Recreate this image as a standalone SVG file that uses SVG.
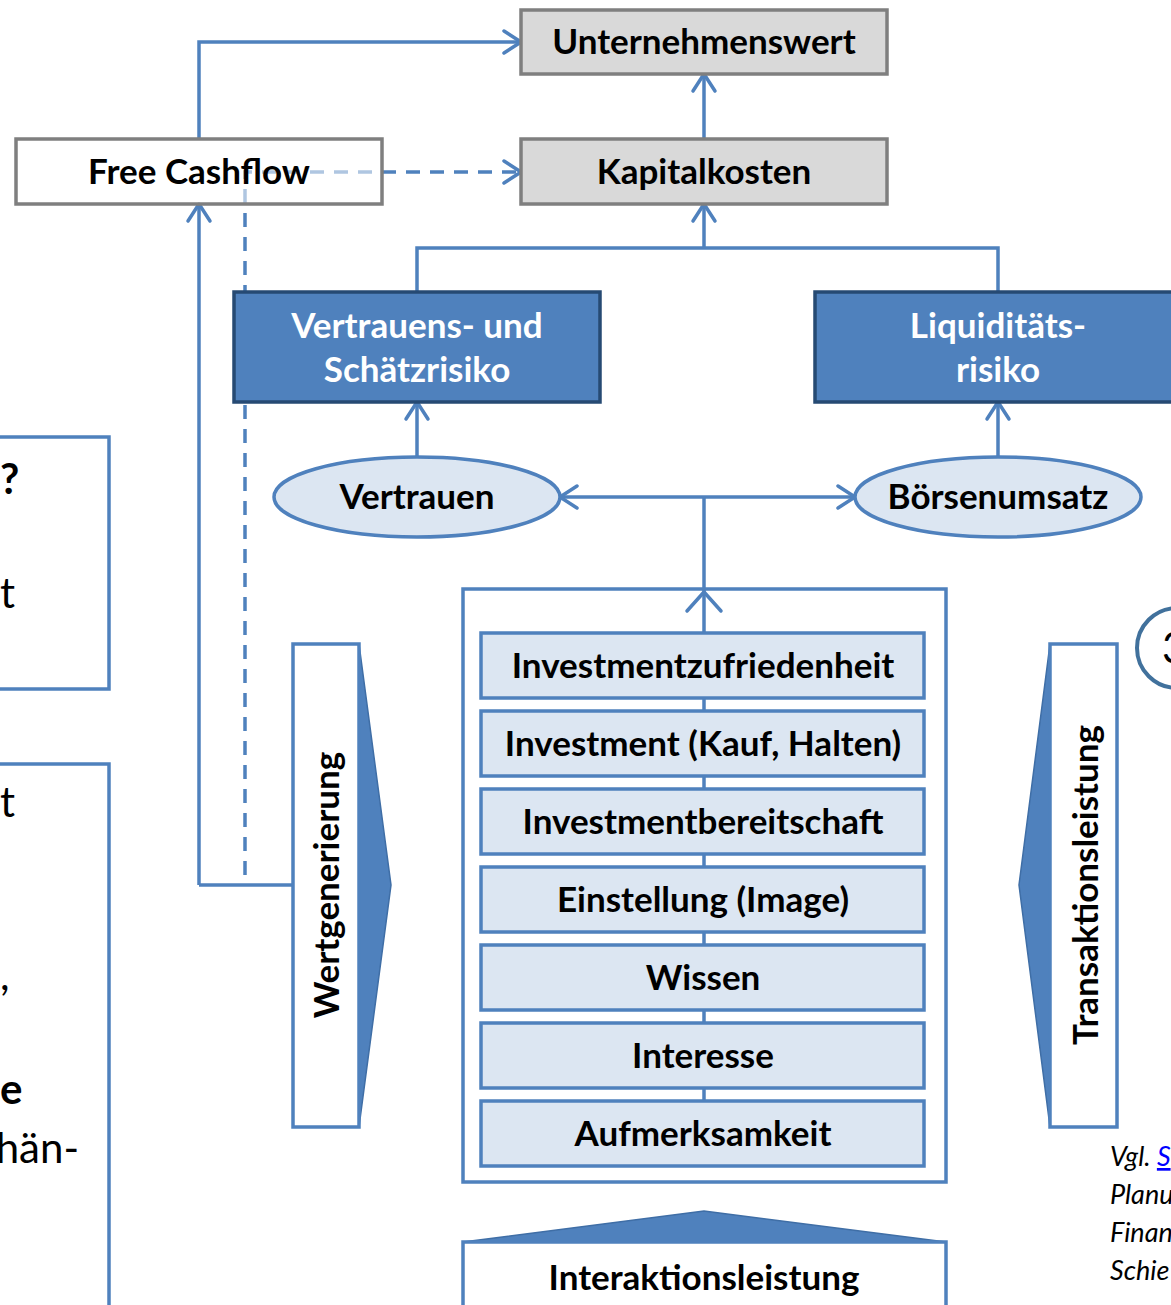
<svg xmlns="http://www.w3.org/2000/svg" width="1171" height="1305" viewBox="0 0 1171 1305">
<defs>
<style>
.t{font-family:Lato,"Liberation Sans",sans-serif;font-weight:bold;font-size:35px;fill:#000;text-anchor:middle}
.w{fill:#fff}
.gray{fill:#d9d9d9;stroke:#7f7f7f;stroke-width:3.5}
.dark{fill:#4f81bd;stroke:#264a73;stroke-width:3.5}
.light{fill:#dce6f2;stroke:#4f81bd;stroke-width:3.5}
.frame{fill:#fff;stroke:#4f81bd;stroke-width:3.5}
.ln{fill:none;stroke:#4f81bd;stroke-width:3.5}
.dash{fill:none;stroke:#4f81bd;stroke-width:3.5;stroke-dasharray:14 10}
.tri{fill:#4f81bd;stroke:#3f6ea6;stroke-width:1.5}
.reg{font-family:Lato,"Liberation Sans",sans-serif;font-size:42px;fill:#000}
.cite{font-family:Lato,"Liberation Sans",sans-serif;font-style:italic;font-size:27px;fill:#000}
</style>
<marker id="ah" markerUnits="userSpaceOnUse" markerWidth="30" markerHeight="30" viewBox="-22 -15 30 30" refX="0" refY="0" orient="auto-start-reverse">
<path d="M-17,-11 L0,0 L-17,11" fill="none" stroke="#4f81bd" stroke-width="3.5" stroke-linecap="round" stroke-linejoin="round"/>
</marker>
</defs>

<g id="side-left">
<rect x="-20" y="437" width="129" height="252" class="frame"/>
<text x="0" y="494" class="reg" style="font-weight:bold">?</text>
<text x="0" y="608" class="reg">t</text>
<rect x="-20" y="764" width="129" height="560" class="frame"/>
<text x="0" y="817" class="reg">t</text>
<text x="0" y="990" class="reg">,</text>
<text x="0" y="1104" class="reg" style="font-weight:bold">e</text>
<text x="79" y="1163" class="reg" style="text-anchor:end">hän-</text>
</g>

<g id="connectors">
<path d="M199,139 V42 H521" class="ln" marker-end="url(#ah)"/>
<path d="M704,139 V74" class="ln" marker-end="url(#ah)"/>
<path d="M704,248 V204" class="ln" marker-end="url(#ah)"/>
<path d="M417,292 V248 H998 V292" class="ln"/>
<path d="M417,457 V402" class="ln" marker-end="url(#ah)"/>
<path d="M998,457 V402" class="ln" marker-end="url(#ah)"/>
<path d="M560,497 H855" class="ln" marker-start="url(#ah)" marker-end="url(#ah)"/>
<path d="M704,497 V588" class="ln"/>
<path d="M199,885 V204" class="ln" marker-end="url(#ah)"/>
<path d="M199,885 H293" class="ln"/>
<path d="M245,875 V172 H521" class="dash" marker-end="url(#ah)"/>
</g>

<g id="unternehmenswert">
<rect x="521" y="10" width="366" height="64" class="gray"/>
<text x="704" y="54" class="t">Unternehmenswert</text>
</g>
<g id="kapitalkosten">
<rect x="521" y="139" width="366" height="65" class="gray"/>
<text x="704" y="184" class="t">Kapitalkosten</text>
</g>
<g id="free-cashflow">
<rect x="16" y="139" width="366" height="65" fill="#fff" fill-opacity="0.55" stroke="#7f7f7f" stroke-width="3.5"/>
<text x="199" y="184" class="t">Free Cashflow</text>
</g>

<g id="vertrauens-risiko">
<rect x="234" y="292" width="366" height="110" class="dark"/>
<text x="417" y="338" class="t w">Vertrauens- und</text>
<text x="417" y="382" class="t w">Schätzrisiko</text>
</g>
<g id="liquiditaets-risiko">
<rect x="815" y="292" width="380" height="110" class="dark"/>
<text x="998" y="338" class="t w">Liquiditäts-</text>
<text x="998" y="382" class="t w">risiko</text>
</g>

<g id="vertrauen">
<ellipse cx="417" cy="497" rx="143" ry="40" class="light"/>
<text x="417" y="509" class="t">Vertrauen</text>
</g>
<g id="boersenumsatz">
<ellipse cx="998" cy="497" rx="143" ry="40" class="light"/>
<text x="998" y="509" class="t">Börsenumsatz</text>
</g>

<g id="stufen">
<rect x="463" y="589" width="483" height="593" class="frame"/>
<path d="M704,1166 V590" class="ln"/>
<path d="M687,611 L704,592 L721,611" fill="none" stroke="#4f81bd" stroke-width="3.5" stroke-linecap="round" stroke-linejoin="round"/>
<g id="investmentzufriedenheit"><rect x="481" y="633" width="443" height="65" class="light"/><text x="703" y="678" class="t">Investmentzufriedenheit</text></g>
<g id="investment"><rect x="481" y="711" width="443" height="65" class="light"/><text x="703" y="756" class="t">Investment (Kauf, Halten)</text></g>
<g id="investmentbereitschaft"><rect x="481" y="789" width="443" height="65" class="light"/><text x="703" y="834" class="t">Investmentbereitschaft</text></g>
<g id="einstellung"><rect x="481" y="867" width="443" height="65" class="light"/><text x="703" y="912" class="t">Einstellung (Image)</text></g>
<g id="wissen"><rect x="481" y="945" width="443" height="65" class="light"/><text x="703" y="990" class="t">Wissen</text></g>
<g id="interesse"><rect x="481" y="1023" width="443" height="65" class="light"/><text x="703" y="1068" class="t">Interesse</text></g>
<g id="aufmerksamkeit"><rect x="481" y="1101" width="443" height="65" class="light"/><text x="703" y="1146" class="t">Aufmerksamkeit</text></g>
</g>

<g id="wertgenerierung">
<path d="M359,644 L391,885 L359,1127 Z" class="tri"/>
<rect x="293" y="644" width="66" height="483" class="frame"/>
<text transform="translate(339,885) rotate(-90)" class="t">Wertgenerierung</text>
</g>

<g id="transaktionsleistung">
<path d="M1050,644 L1019,885 L1050,1127 Z" class="tri"/>
<rect x="1050" y="644" width="67" height="483" class="frame"/>
<text transform="translate(1098,885) rotate(-90)" class="t">Transaktionsleistung</text>
</g>

<g id="interaktionsleistung">
<path d="M463,1242 L704,1211 L946,1242 Z" class="tri"/>
<rect x="463" y="1242" width="483" height="90" class="frame"/>
<text x="704" y="1290" class="t">Interaktionsleistung</text>
</g>

<g id="marker-3">
<circle cx="1177" cy="648" r="40" fill="#fff" stroke="#41719c" stroke-width="4"/>
<text x="1162" y="663" class="reg">3</text>
</g>

<g id="citation">
<text x="1110" y="1166" class="cite">Vgl. <tspan fill="#0000ff" text-decoration="underline">S</tspan></text>
<text x="1110" y="1204" class="cite">Planu</text>
<text x="1110" y="1242" class="cite">Finan</text>
<text x="1110" y="1280" class="cite">Schie</text>
</g>
</svg>
